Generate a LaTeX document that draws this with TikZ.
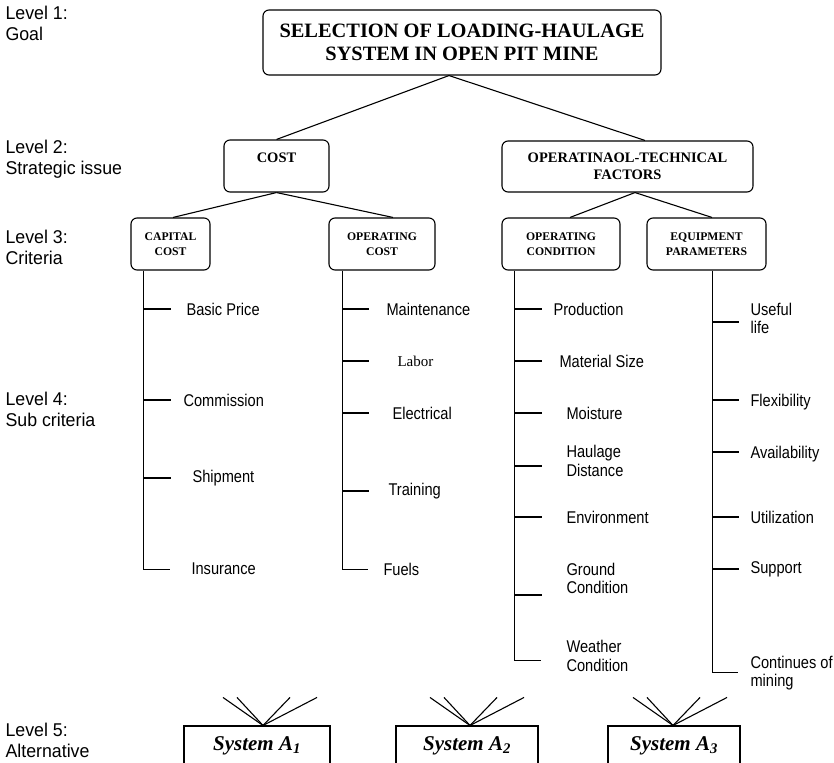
\documentclass[tikz,border=0pt]{standalone}
\usepackage{fontspec}
\setmainfont{Liberation Serif}
\newfontfamily\lvlfont[FakeStretch=0.86]{Liberation Sans}
\newfontfamily\lvlwide[FakeStretch=0.96]{Liberation Sans}
\usetikzlibrary{positioning}
\tikzset{
  goalbox/.style={draw, rounded corners=6pt, inner sep=0pt, align=center,
    font=\fontsize{20.4}{23}\selectfont\bfseries},
  issuebox/.style={draw, rounded corners=6pt, inner sep=0pt, align=center,
    font=\fontsize{14.5}{17}\selectfont\bfseries},
  critbox/.style={draw, rounded corners=6pt, inner sep=0pt, align=center,
    minimum height=52pt, font=\fontsize{11.7}{15}\selectfont\bfseries},
  altbox/.style={draw, inner sep=0pt, minimum height=40pt,
    font=\fontsize{21}{24}\selectfont\bfseries\itshape},
  subitem/.style={anchor=west, inner sep=0pt, align=left,
    font={\lvlfont\fontsize{17}{18.5}\selectfont}},
  levellbl/.style={anchor=west, inner sep=0pt, align=left,
    font={\lvlwide\fontsize{18.5}{20.8}\selectfont}}
}
\begin{document}
\begin{tikzpicture}[x=1pt, y=-1pt, line width=1.1pt]
    \useasboundingbox (0,0) rectangle (834,762); \clip (0,0) rectangle (834,762);
    % levels
    \node (l1) at (5,23) [levellbl] {Level 1:\\Goal};
    \node (l2) at (5,159) [levellbl] {Level 2:\\Strategic issue};
    \node (l3) at (5,247) [levellbl] {Level 3:\\Criteria};
    \node (l4) at (5,409) [levellbl] {Level 4:\\Sub criteria};
    \node (l5) at (5,740) [levellbl] {Level 5:\\Alternative};
    % boxes
    \node (goal) at (462,42.5) [goalbox, minimum width=398pt, minimum height=65pt]
    {SELECTION OF LOADING-HAULAGE\\SYSTEM IN OPEN PIT MINE};
    \node (cost) at (276.5,166) [issuebox, minimum width=105pt, minimum height=52pt]
    {COST\\\mbox{}};
    \node (optech) at (627.5,166.5) [issuebox, minimum width=251pt, minimum height=51pt]
    {OPERATINAOL-TECHNICAL\\FACTORS};
    \node (capcost) at (170.5,244) [critbox, minimum width=79pt] {CAPITAL\\COST};
    \node (opcost) at (382,244) [critbox, minimum width=106pt] {OPERATING\\COST};
    \node (opcond) at (561,244) [critbox, minimum width=118pt] {OPERATING\\CONDITION};
    \node (equip) at (706.5,244) [critbox, minimum width=119pt] {EQUIPMENT\\PARAMETERS};
    \draw ([xshift=-13pt]goal.south) -- (cost.north);
    \draw ([xshift=-13pt]goal.south) -- ([xshift=17.5pt]optech.north);
    \draw (cost.south) -- ([xshift=2.5pt]capcost.north);
    \draw (cost.south) -- ([xshift=11pt]opcost.north);
    \draw ([xshift=7.5pt]optech.south) -- ([xshift=9pt]opcond.north);
    \draw ([xshift=7.5pt]optech.south) -- ([xshift=5.5pt]equip.north);
    % sub criteria
    \draw ([xshift=13pt]capcost.south west) |- ++(27,299);
    \foreach \y in {309,400,478} \draw (144,\y) -- ++(27,0);
    \node (bp) at (186,309) [subitem] {Basic Price};
    \node (com) at (183,400) [subitem] {Commission};
    \node (shp) at (192,478) [subitem] {Shipment};
    \node (ins) at (191,569) [subitem] {Insurance};
    \draw ([xshift=14pt]opcost.south west) |- ++(26,299);
    \foreach \y in {309,361,413,491} \draw (343,\y) -- ++(26,0);
    \node (mnt) at (386,309) [subitem] {Maintenance};
    \node (lab) at (397,361) [subitem, font=\fontsize{15}{17}\selectfont] {Labor};
    \node (ele) at (392,413) [subitem] {Electrical};
    \node (trn) at (388,491) [subitem] {Training};
    \node (fue) at (383,569) [subitem] {Fuels};
    \draw ([xshift=13pt]opcond.south west) |- ++(27,390);
    \foreach \y in {309,361,413,466,517,595} \draw (515,\y) -- ++(27,0);
    \node (prd) at (553,309) [subitem] {Production};
    \node (mat) at (559,361) [subitem] {Material Size};
    \node (moi) at (566,413) [subitem] {Moisture};
    \node (hau) at (566,461) [subitem] {Haulage\\Distance};
    \node (env) at (566,517) [subitem] {Environment};
    \node (grd) at (566,578.5) [subitem] {Ground\\Condition};
    \node (wth) at (566,656) [subitem] {Weather\\Condition};
    \draw ([xshift=66pt]equip.south west) |- ++(26,402);
    \foreach \y in {322,400,452,517,569} \draw (713,\y) -- ++(26,0);
    \node (use) at (750,318.5) [subitem] {Useful\\life};
    \node (flx) at (750,402) [subitem] {Flexibility};
    \node (avl) at (750,454) [subitem] {Availability};
    \node (utl) at (750,517) [subitem] {Utilization};
    \node (sup) at (750,569) [subitem] {Support};
    \node (cnt) at (750,673) [subitem] {Continues of\\mining};
    % alternatives
    \node (sys1) at (257,746) [altbox, minimum width=146pt] {System A\textsubscript{1}};
    \node (sys2) at (467,746) [altbox, minimum width=142pt] {System A\textsubscript{2}};
    \node (sys3) at (674,746) [altbox, minimum width=132pt] {System A\textsubscript{3}};
    \foreach \dx in {-40,-26,27,54} {
      \draw ([xshift=6pt]sys1.north) -- ++(\dx,-28);
      \draw ([xshift=3pt]sys2.north) -- ++(\dx,-28);
      \draw ([xshift=-1pt]sys3.north) -- ++(\dx,-28);
    }
\end{tikzpicture}
\end{document}
